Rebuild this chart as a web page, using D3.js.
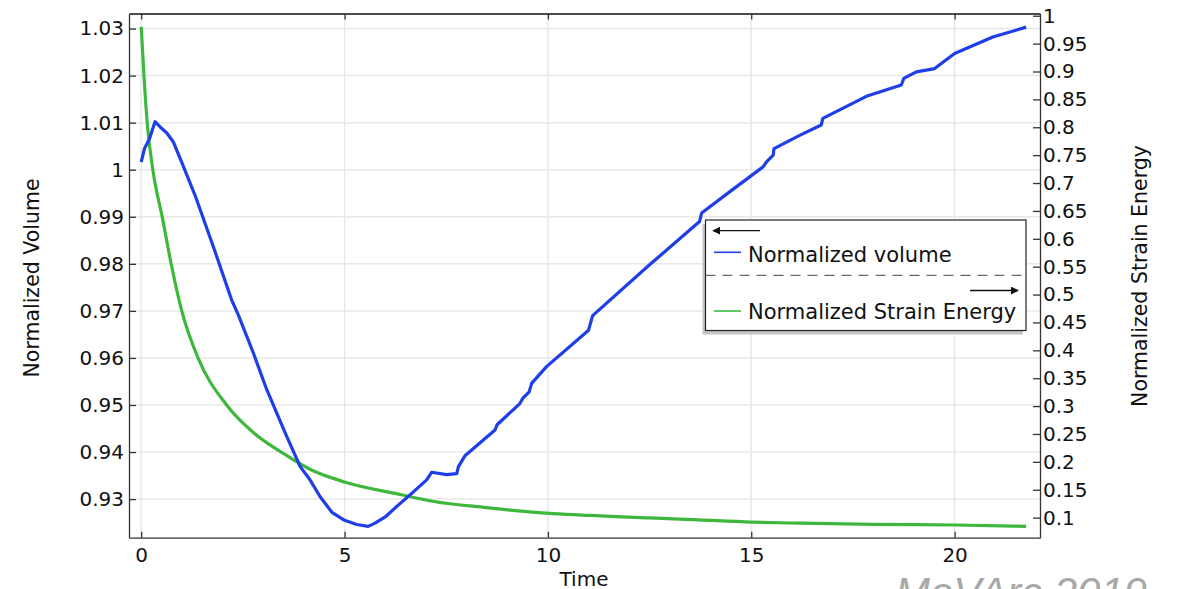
<!DOCTYPE html>
<html lang="en">

<head>
    <meta charset="utf-8">
    <title>volume / strain energy</title>
    <style>
        body {
            margin: 0;
            background: #fff;
        }

        text {
            font-family: "DejaVu Sans", sans-serif;
            fill: #111;
        }

        .grid line {
            stroke: #e8e8e8;
            stroke-width: 1.5;
        }

        .axis path,
        .axis line {
            stroke: #333;
            stroke-width: 1.3;
        }

        .axis text {
            font-size: 20px;
        }
    </style>
</head>

<body>
    <div id="chart"></div>
    <script src="https://cdn.jsdelivr.net/npm/d3@7"></script>
    <script>
        // blue curve, left axis
        var volTime = [0, 0.08, 0.2, 0.34, 0.5, 0.63, 0.79, 1.0, 1.34, 1.8, 2.22, 2.39, 2.76, 3.09, 3.58, 3.91,
            4.15, 4.4, 4.69, 5.0, 5.3, 5.58, 5.75, 6.0, 6.24, 6.61, 7.02, 7.14, 7.51, 7.76, 7.8, 7.96, 8.7, 8.75,
            9.31, 9.38, 9.54, 9.6, 9.96, 11.0, 11.1, 12.5, 13.73, 13.78, 14.5, 15.29, 15.38, 15.54, 15.56,
            16.19, 16.72, 16.76, 17.83, 18.69, 18.75, 19.06, 19.51, 20.0, 20.94, 21.76];
        var volValue = [1.0016, 1.0045, 1.0065, 1.0102, 1.0088, 1.0078, 1.0059, 1.0015, 0.9942, 0.983, 0.9724, 0.9691,
            0.961, 0.9532, 0.9433, 0.9369, 0.9341, 0.9305, 0.9272, 0.9255, 0.9246, 0.9242, 0.9249, 0.9262, 0.9281,
            0.9309, 0.9341, 0.9357, 0.9352, 0.9354, 0.9369, 0.9392, 0.9447, 0.9458, 0.9503, 0.9514, 0.9528, 0.9546,
            0.9581, 0.9659, 0.969, 0.9798, 0.989, 0.9908, 0.9955, 1.0006, 1.0017, 1.0031, 1.0045, 1.0073, 1.0095,
            1.0109, 1.0156, 1.018, 1.0194, 1.0208, 1.0215, 1.0247, 1.0282, 1.0303];

        // green curve, right axis
        var energyTime = [0, 0.07, 0.15, 0.29, 0.52, 0.74, 1.0, 1.4, 2.1, 2.8, 3.5, 4.2, 5.0, 6.4, 7.2, 8.5, 9.6,
            11.0, 12.5, 13.7, 15.0, 16.2, 18.0, 20.0, 21.76];
        var energyValue = [0.98, 0.89, 0.806, 0.722, 0.638, 0.554, 0.47, 0.386, 0.302, 0.25, 0.215, 0.185, 0.164,
            0.141, 0.129, 0.118, 0.11, 0.104, 0.0996, 0.096, 0.092, 0.09, 0.088, 0.0868, 0.0844];

        var xTicks = [0, 5, 10, 15, 20];
        var leftTicks = [0.93, 0.94, 0.95, 0.96, 0.97, 0.98, 0.99, 1, 1.01, 1.02, 1.03];
        var rightTicks = [0.1, 0.15, 0.2, 0.25, 0.3, 0.35, 0.4, 0.45, 0.5, 0.55, 0.6, 0.65, 0.7, 0.75, 0.8, 0.85,
            0.9, 0.95, 1];
        var seriesNames = ['Normalized volume', 'Normalized Strain Energy'];
        var seriesColors = ['#1e3ee8', '#3db83d'];

        var svgWidth = 1179;
        var svgHeight = 589;
        var plotLeft = 129, plotRight = 1040, plotTop = 13.5, plotBottom = 537.7;

        var svg = d3.select('#chart')
            .append('svg')
            .attr('width', svgWidth)
            .attr('height', svgHeight);

        var xScale = d3.scaleLinear().domain([-0.3, 22.1]).range([plotLeft, plotRight]);
        var yLeft = d3.scaleLinear().domain([0.9218, 1.0332]).range([plotBottom, plotTop]);
        var yRight = d3.scaleLinear().domain([0.064, 1.004]).range([plotBottom, plotTop]);

        // grid
        var grid = svg.append('g').attr('class', 'grid');
        grid.selectAll('.gx').data(xTicks).enter().append('line')
            .attr('x1', d => xScale(d)).attr('x2', d => xScale(d))
            .attr('y1', plotTop).attr('y2', plotBottom);
        grid.selectAll('.gy').data(leftTicks).enter().append('line')
            .attr('x1', plotLeft).attr('x2', plotRight)
            .attr('y1', d => yLeft(d)).attr('y2', d => yLeft(d));

        svg.append('clipPath').attr('id', 'plotclip')
            .append('rect').attr('x', plotLeft).attr('y', plotTop)
            .attr('width', plotRight - plotLeft).attr('height', plotBottom - plotTop);

        var plot = svg.append('g').attr('clip-path', 'url(#plotclip)');

        var volData = volTime.map((t, i) => [t, volValue[i]]);
        var energyData = energyTime.map((t, i) => [t, energyValue[i]]);

        plot.append('path')
            .datum(energyData)
            .attr('fill', 'none')
            .attr('stroke', seriesColors[1])
            .attr('stroke-width', 3.2)
            .attr('stroke-linejoin', 'round')
            .attr('d', d3.line().x(d => xScale(d[0])).y(d => yRight(d[1])).curve(d3.curveMonotoneX));

        plot.append('path')
            .datum(volData)
            .attr('fill', 'none')
            .attr('stroke', seriesColors[0])
            .attr('stroke-width', 3.2)
            .attr('stroke-linejoin', 'round')
            .attr('d', d3.line().x(d => xScale(d[0])).y(d => yLeft(d[1])));

        // axes, ticks pointing inward
        svg.append('g').attr('class', 'axis')
            .attr('transform', `translate(0,${plotBottom})`)
            .call(d3.axisBottom(xScale).tickValues(xTicks).tickSizeInner(-6).tickSizeOuter(0).tickPadding(10));

        svg.append('g').attr('class', 'axis')
            .attr('transform', `translate(0,${plotTop})`)
            .call(d3.axisTop(xScale).tickValues(xTicks).tickSizeInner(-6).tickSizeOuter(0).tickFormat(''))
            .select('.domain').style('stroke', '#111');

        svg.append('g').attr('class', 'axis')
            .attr('transform', `translate(${plotLeft},0)`)
            .call(d3.axisLeft(yLeft).tickValues(leftTicks).tickSizeInner(-7).tickSizeOuter(0).tickPadding(5)
                .tickFormat(d => String(d)));

        svg.append('g').attr('class', 'axis')
            .attr('transform', `translate(${plotRight},0)`)
            .call(d3.axisRight(yRight).tickValues(rightTicks).tickSizeInner(-7).tickSizeOuter(0).tickPadding(3)
                .tickFormat(d => String(d)));

        // axis titles
        svg.append('text')
            .attr('transform', 'translate(39,278) rotate(-90)')
            .attr('text-anchor', 'middle')
            .style('font-size', '20.5px')
            .text('Normalized Volume');

        svg.append('text')
            .attr('transform', 'translate(1147,276) rotate(-90)')
            .attr('text-anchor', 'middle')
            .style('font-size', '20.5px')
            .text('Normalized Strain Energy');

        svg.append('text')
            .attr('x', 584).attr('y', 586)
            .attr('text-anchor', 'middle')
            .style('font-size', '20px')
            .text('Time');

        // legend
        var lg = svg.append('g');
        var lx = 705.5, ly = 220, lw = 320.5, lh = 110.5;
        lg.append('rect').attr('x', lx - 3).attr('y', ly + 4).attr('width', lw).attr('height', lh)
            .attr('fill', '#c4c4c4');
        lg.append('rect').attr('x', lx).attr('y', ly).attr('width', lw).attr('height', lh)
            .attr('fill', '#fff').attr('stroke', '#222').attr('stroke-width', 1.2);

        var defs = svg.append('defs');
        defs.append('marker').attr('id', 'arrow')
            .attr('viewBox', '0 0 10 10').attr('refX', 9).attr('refY', 5)
            .attr('markerWidth', 8).attr('markerHeight', 8).attr('markerUnits', 'userSpaceOnUse')
            .attr('orient', 'auto')
            .append('path').attr('d', 'M0,0 L10,5 L0,10 z').attr('fill', '#111');

        lg.append('line').attr('x1', 760).attr('x2', 713).attr('y1', 230.7).attr('y2', 230.7)
            .attr('stroke', '#111').attr('stroke-width', 1.3).attr('marker-end', 'url(#arrow)');
        lg.append('line').attr('x1', 970).attr('x2', 1018).attr('y1', 290.5).attr('y2', 290.5)
            .attr('stroke', '#111').attr('stroke-width', 1.3).attr('marker-end', 'url(#arrow)');
        lg.append('line').attr('x1', lx).attr('x2', lx + lw).attr('y1', 275.3).attr('y2', 275.3)
            .attr('stroke', '#444').attr('stroke-width', 1).attr('stroke-dasharray', '10,7');

        var rows = [252.3, 311];
        var baselines = [262.3, 318.5];
        seriesNames.forEach((name, i) => {
            lg.append('line').attr('x1', 714).attr('x2', 741).attr('y1', rows[i]).attr('y2', rows[i])
                .attr('stroke', seriesColors[i]).attr('stroke-width', 1.6);
            lg.append('text').attr('x', 748).attr('y', baselines[i])
                .style('font-size', '21px').text(name);
        });

        // watermark
        svg.append('text')
            .attr('x', 895).attr('y', 607)
            .style('font-family', '"Liberation Sans", sans-serif')
            .style('font-style', 'italic')
            .style('font-size', '42px')
            .style('fill', '#a8a8a8')
            .text('MeVArc 2019');
    </script>
</body>

</html>
